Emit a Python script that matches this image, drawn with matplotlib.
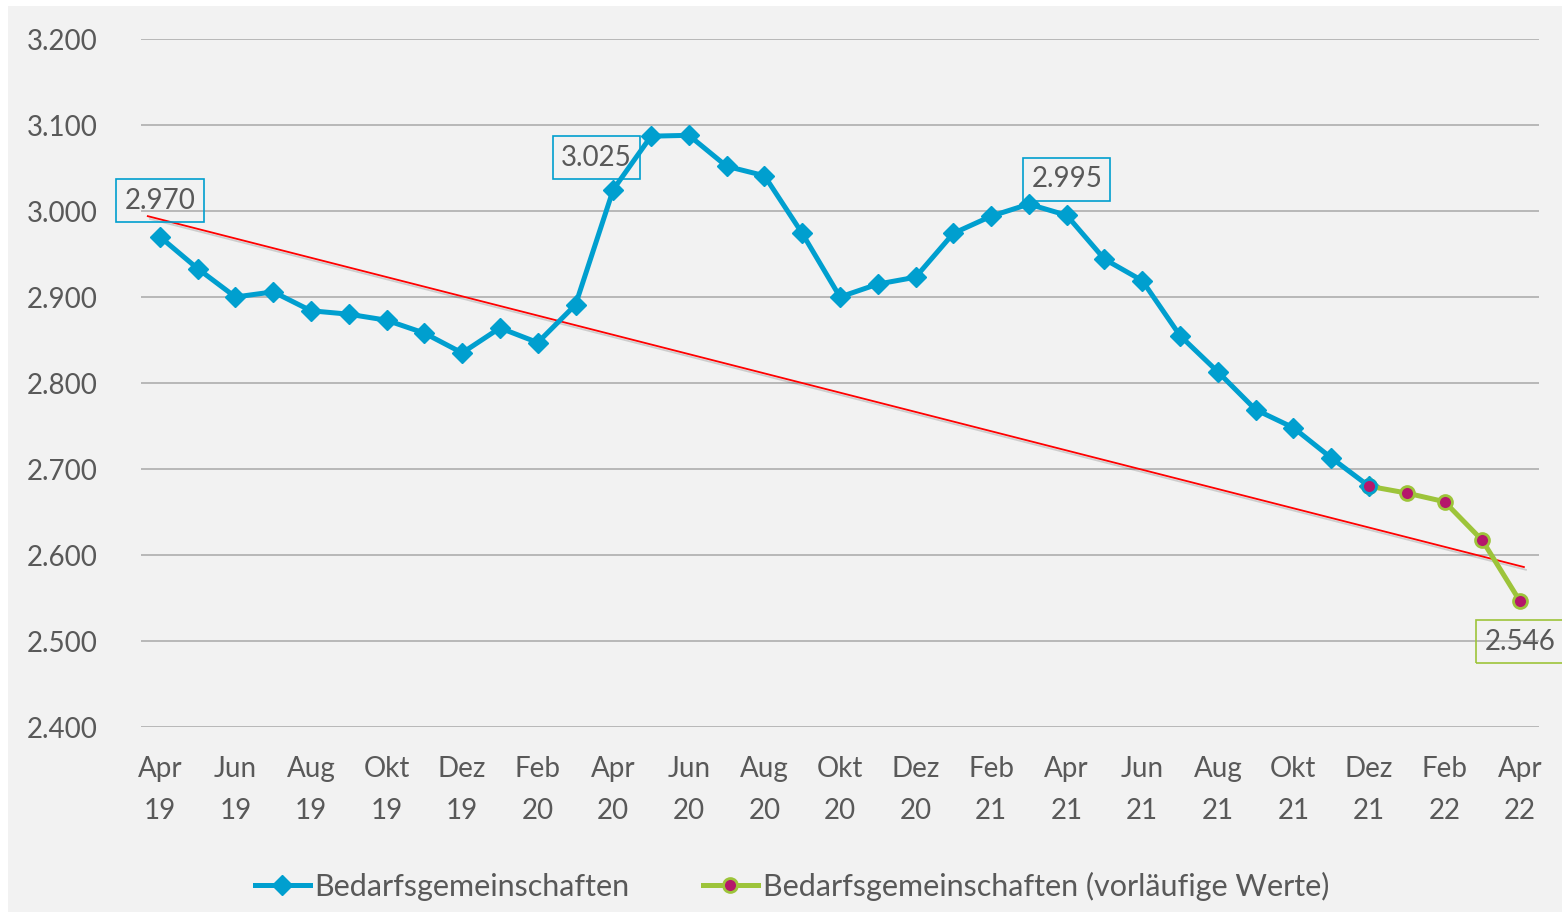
import numpy as np
import matplotlib.pyplot as plt
import matplotlib.patheffects as pe
from matplotlib.patches import Rectangle

plt.rcParams['font.family'] = ['Lato', 'DejaVu Sans']

# monthly values, Apr 19 .. Dec 21 (final) and Dec 21 .. Apr 22 (preliminary)
bg_values = [2970, 2933, 2900, 2906, 2884, 2880, 2873, 2858, 2835, 2864, 2847, 2891,
             3025, 3087, 3088, 3052, 3041, 2974, 2900, 2915, 2923, 2974, 2994, 3008,
             2995, 2944, 2919, 2855, 2813, 2769, 2748, 2713, 2680]
bg_prelim = [2680, 2672, 2662, 2617, 2546]
tick_labels = ['Apr\n19', 'Jun\n19', 'Aug\n19', 'Okt\n19', 'Dez\n19', 'Feb\n20', 'Apr\n20',
               'Jun\n20', 'Aug\n20', 'Okt\n20', 'Dez\n20', 'Feb\n21', 'Apr\n21', 'Jun\n21',
               'Aug\n21', 'Okt\n21', 'Dez\n21', 'Feb\n22', 'Apr\n22']
trend_x = [-0.32, 36.1]
trend_y = [2994, 2586]
# labelled points: (index, value)
blue_labels = [(0, 2970), (12, 3025), (24, 2995)]
green_label = (36, 2546)

blue = '#009fcf'
green = '#9dc43a'
magenta = '#b5176b'
txt = '#595959'
bgc = '#f2f2f2'

fig = plt.figure(figsize=(15.62, 9.13), dpi=100, facecolor='white')
fig.patches.append(Rectangle((8 / 1562, 1 / 913), 1, 1 - 7 / 913, transform=fig.transFigure,
                             facecolor=bgc, edgecolor='none', zorder=-10))
ax = fig.add_axes([141 / 1562, 1 - 727 / 913, 1398 / 1562, 688 / 913])
ax.set_facecolor(bgc)
ax.patch.set_alpha(0)

x_blue = np.arange(len(bg_values))
x_green = np.arange(len(bg_values) - 1, len(bg_values) - 1 + len(bg_prelim))

ax.plot(trend_x, trend_y, color='red', lw=1.3, zorder=2,
        path_effects=[pe.SimpleLineShadow(offset=(1.5, -2), alpha=0.15), pe.Normal()])
ax.plot(x_blue, bg_values, color=blue, lw=3.6, marker='D', ms=10, zorder=3,
        label='Bedarfsgemeinschaften')
ax.plot(x_green, bg_prelim, color=green, lw=3.6, marker='o', ms=10, mfc=magenta,
        mec=green, mew=2, zorder=4, label='Bedarfsgemeinschaften (vorläufige Werte)')
ax.plot(x_green[:1], bg_prelim[:1], ls='none', marker='o', ms=10, mfc=magenta,
        mec=blue, mew=2, zorder=5)

def fmt(v):
    return f'{v:,}'.replace(',', '.')

offsets = {0: (0, 26), 12: (-12, 23), 24: (0, 26)}
for i, v in blue_labels:
    ax.annotate(fmt(v), (i, v), xytext=offsets[i], textcoords='offset points',
                ha='center', va='center', fontsize=20, color=txt, zorder=6,
                annotation_clip=False,
                bbox=dict(boxstyle='square,pad=0.3', fc='none', ec=blue, lw=1.2))
i, v = green_label
ax.annotate(fmt(v), (i, v), xytext=(0, -29), textcoords='offset points',
            ha='center', va='center', fontsize=20, color=txt, zorder=6,
            annotation_clip=False,
            bbox=dict(boxstyle='square,pad=0.3', fc='none', ec=green, lw=1.2))

ax.set_xlim(-0.5, 36.5)
ax.set_ylim(2400, 3200)
ax.set_yticks(np.arange(2400, 3201, 100))
ax.set_yticklabels([fmt(v) for v in range(2400, 3201, 100)])
ax.set_xticks(np.arange(0, 37, 2))
ax.set_xticklabels(tick_labels, linespacing=1.75)
ax.tick_params(axis='both', length=0, labelsize=20, labelcolor=txt)
ax.tick_params(axis='y', pad=31)
ax.tick_params(axis='x', pad=21)
ax.grid(axis='y', color='#b3b3b3', lw=1.3)
for s in ax.spines.values():
    s.set_visible(False)

leg = fig.legend(loc='center', bbox_to_anchor=(0.507, 1 - 886 / 913), ncol=2,
                 frameon=False, fontsize=22, handlelength=1.8, handletextpad=0.15,
                 columnspacing=2.4, labelcolor=txt)

fig.savefig('out.png', dpi=100, facecolor='white')
